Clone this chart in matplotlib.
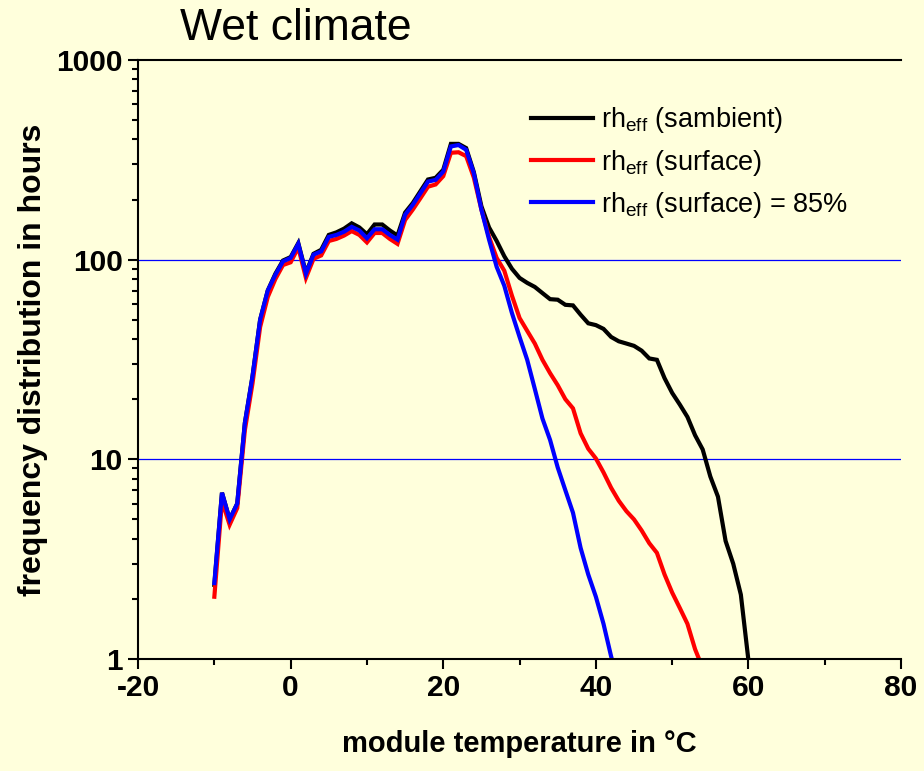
import numpy as np
import matplotlib
matplotlib.use("Agg")
import matplotlib.pyplot as plt
from matplotlib.ticker import FixedLocator, LogLocator, NullFormatter, FixedFormatter

# module temperature steps (deg C), one value per degree starting at -10
t_start = -10

# rh_eff (sambient)
sambient = [2.35, 6.8, 5.0, 6.0, 15.2, 26, 50, 70, 85, 99,
            103, 121, 86, 107, 112, 133, 137, 143, 152, 145,
            134, 150, 150, 140, 132, 172, 192, 220, 252, 257,
            282, 380, 380, 362, 275, 185, 145, 124, 104, 90,
            81, 76.5, 73, 68, 63.4, 63, 59.4, 59, 53, 48,
            47, 45, 41, 39, 38, 37, 35, 32, 31.5, 25.5,
            21.5, 18.8, 16.3, 13.2, 11.2, 8.2, 6.5, 3.9, 3.0, 2.1,
            0.98]

# rh_eff (surface)
surface = [2.05, 6.2, 4.7, 5.7, 14, 24, 46, 65, 80, 94,
           97, 115, 81, 101, 105, 124, 127, 132, 139, 133,
           122, 136, 136, 127, 120, 158, 178, 203, 232, 238,
           262, 343, 345, 330, 258, 178, 130, 102, 88, 66,
           51, 44, 38, 31.5, 27, 23.5, 20, 18, 13.5, 11.3,
           10.1, 8.6, 7.2, 6.2, 5.5, 5.0, 4.4, 3.8, 3.4, 2.65,
           2.15, 1.8, 1.5, 1.12, 0.9]

# rh_eff (surface) = 85%
surface85 = [2.4, 6.8, 5.0, 6.0, 15.2, 26, 50, 70, 84, 98,
             102, 120, 85, 106, 110, 130, 133, 138, 146, 140,
             128, 142, 142, 133, 126, 168, 188, 215, 246, 251,
             276, 369, 375, 355, 271, 178, 126, 92, 74, 54,
             41, 31.5, 22.5, 16, 12.5, 9.1, 7.0, 5.4, 3.6, 2.65,
             2.05, 1.5, 1.03, 0.75]

series = [
    (sambient, "black", r"rh$_\mathregular{eff}$ (sambient)"),
    (surface, "#ff0000", r"rh$_\mathregular{eff}$ (surface)"),
    (surface85, "#0000ff", r"rh$_\mathregular{eff}$ (surface) = 85%"),
]

x_ticks = [-20, 0, 20, 40, 60, 80]
y_ticks = [1, 10, 100, 1000]
y_tick_labels = ["1", "10", "100", "1000"]

bg = "#ffffdc"
plt.rcParams["font.family"] = ["Liberation Sans", "DejaVu Sans"]
plt.rcParams["mathtext.fontset"] = "custom"
plt.rcParams["mathtext.rm"] = "Liberation Sans"
plt.rcParams["axes.unicode_minus"] = False

fig = plt.figure(figsize=(9.24, 7.71), dpi=100, facecolor=bg)
ax = fig.add_axes([0.1494, 0.1453, 0.8258, 0.7769], facecolor=bg)

for vals, color, label in series:
    temps = np.arange(t_start, t_start + len(vals))
    ax.plot(temps, vals, color=color, lw=3.0, label=label, solid_joinstyle="miter")

ax.set_yscale("log")
ax.set_xlim(-20, 80)
ax.set_ylim(1, 1000)

# blue reference lines at 10 and 100
for yv in [10, 100]:
    ax.axhline(yv, color="#0000ff", lw=0.9, zorder=0.5)

ax.xaxis.set_major_locator(FixedLocator(x_ticks))
ax.xaxis.set_minor_locator(FixedLocator(list(range(-10, 80, 20))))
ax.yaxis.set_major_locator(FixedLocator(y_ticks))
ax.yaxis.set_major_formatter(FixedFormatter(y_tick_labels))
ax.yaxis.set_minor_locator(LogLocator(base=10, subs=np.arange(2, 10)))
ax.yaxis.set_minor_formatter(NullFormatter())

ax.tick_params(axis="both", which="major", direction="out", length=7, width=1.5,
               labelsize=21.5, pad=4)
ax.tick_params(axis="both", which="minor", direction="out", length=4.5, width=1.5)
for lab in ax.get_xticklabels() + ax.get_yticklabels():
    lab.set_fontweight("bold")

for side in ["left", "bottom", "top"]:
    ax.spines[side].set_linewidth(1.5)
ax.spines["right"].set_visible(False)

ax.set_xlabel("module temperature in °C", fontsize=21, fontweight="bold", labelpad=20)
ax.set_ylabel("frequency distribution in hours", fontsize=23, fontweight="bold", labelpad=6)

fig.text(0.32, 0.963, "Wet climate", fontsize=32, ha="center", va="center")

leg = ax.legend(loc="upper left", bbox_to_anchor=(0.483, 0.965), frameon=False,
                fontsize=19.5, handlelength=2.3, handletextpad=0.3, labelspacing=0.45)

fig.savefig("out.png", dpi=100, facecolor=bg)
